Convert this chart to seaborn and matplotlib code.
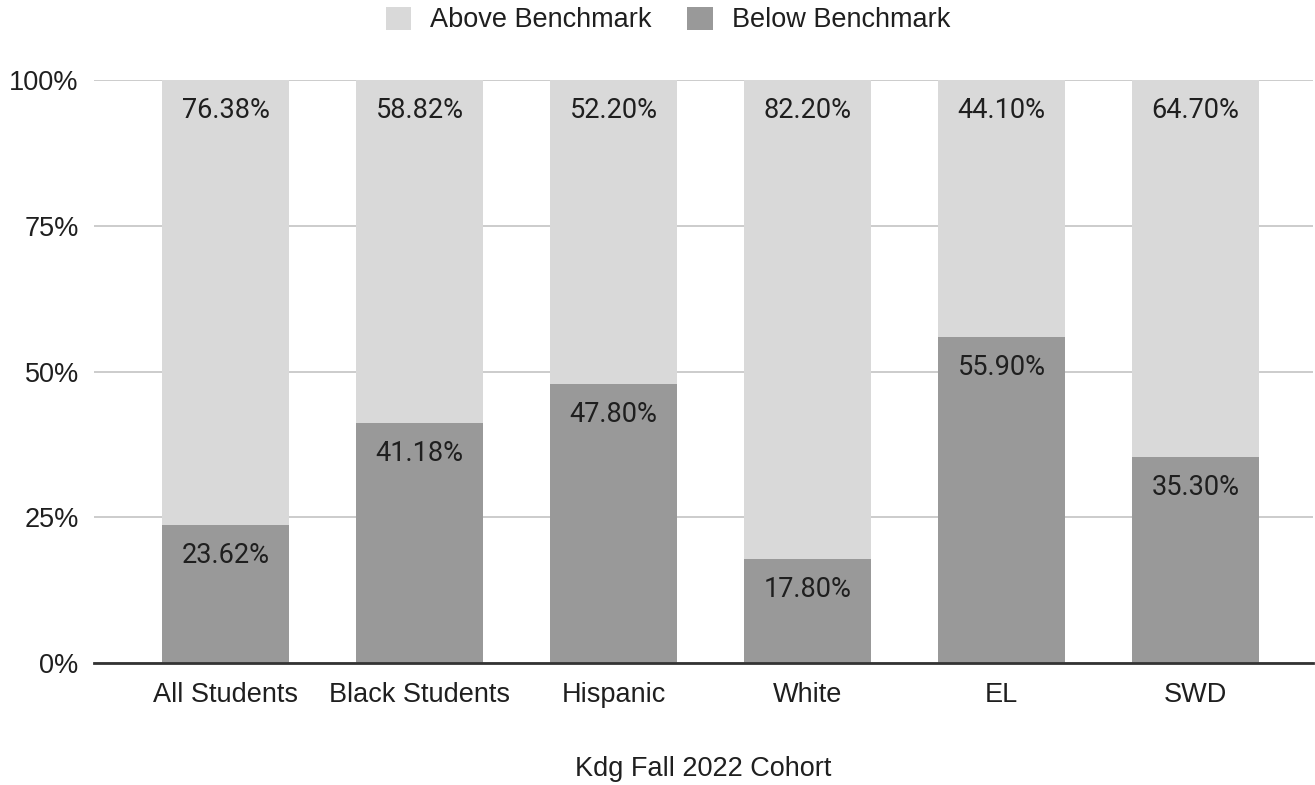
import matplotlib
matplotlib.use("Agg")
import matplotlib.pyplot as plt
import seaborn as sns
import pandas as pd
from matplotlib.patches import Patch
from matplotlib.ticker import FuncFormatter

groups = ["All Students", "Black Students", "Hispanic", "White", "EL", "SWD"]
above = [76.38, 58.82, 52.20, 82.20, 44.10, 64.70]
below = [23.62, 41.18, 47.80, 17.80, 55.90, 35.30]
y_ticks = [0, 25, 50, 75, 100]

c_above = "#d9d9d9"
c_below = "#999999"
text_c = "#1f1f1f"
fs = 19.5

sns.set_theme(style="white")
plt.rcParams["font.family"] = ["Liberation Sans", "DejaVu Sans"]

df = pd.DataFrame({"group": groups, "above": above, "below": below})
df["total"] = df["above"] + df["below"]

fig = plt.figure(figsize=(13.15, 7.85), dpi=100)
ax = fig.add_axes([94 / 1315, 1 - 663 / 785, (1313 - 94) / 1315, (663 - 80) / 785])

# full-height bars in the light colour, lower segment drawn on top
sns.barplot(data=df, x="group", y="total", color=c_above, width=0.655,
            saturation=1, ax=ax, zorder=2)
sns.barplot(data=df, x="group", y="below", color=c_below, width=0.655,
            saturation=1, ax=ax, zorder=3)

for p in ax.patches:
    p.set_edgecolor("none")

ax.set_xlim(-0.678, 5.606)
ax.set_ylim(0, 100)
ax.set_yticks(y_ticks)
ax.yaxis.set_major_formatter(FuncFormatter(lambda v, _: f"{v:.0f}%"))
ax.grid(axis="y", color="#cccccc", linewidth=1.4, zorder=0)
ax.set_axisbelow(True)
for s in ["top", "right", "left"]:
    ax.spines[s].set_visible(False)
ax.spines["bottom"].set_color("#333333")
ax.spines["bottom"].set_linewidth(2)
ax.spines["bottom"].set_zorder(5)

ax.tick_params(axis="both", length=0, labelsize=fs, colors=text_c)
ax.tick_params(axis="x", pad=13.5)
ax.tick_params(axis="y", pad=11)
ax.set_ylabel("")
ax.set_xlabel("Kdg Fall 2022 Cohort", fontsize=fs, color=text_c, labelpad=35)

label_font = dict(family=["Roboto", "DejaVu Sans"], fontsize=fs, color=text_c,
                  ha="center", va="center")
for i, (a, b) in enumerate(zip(above, below)):
    ax.annotate(f"{a:.2f}%", (i, a + b), xytext=(0, -22), textcoords="offset points",
                zorder=6, **label_font)
    ax.annotate(f"{b:.2f}%", (i, b), xytext=(0, -22), textcoords="offset points",
                zorder=6, **label_font)

handles = [Patch(facecolor=c_above, edgecolor="none", label="Above Benchmark"),
           Patch(facecolor=c_below, edgecolor="none", label="Below Benchmark")]
fig.legend(handles=handles, loc="center", bbox_to_anchor=(668 / 1315, 1 - 20 / 785), ncol=2,
           frameon=False, fontsize=fs, handlelength=0.95, handleheight=0.95,
           handletextpad=0.7, columnspacing=1.3, labelcolor=text_c)

fig.savefig("out.png", dpi=100)
